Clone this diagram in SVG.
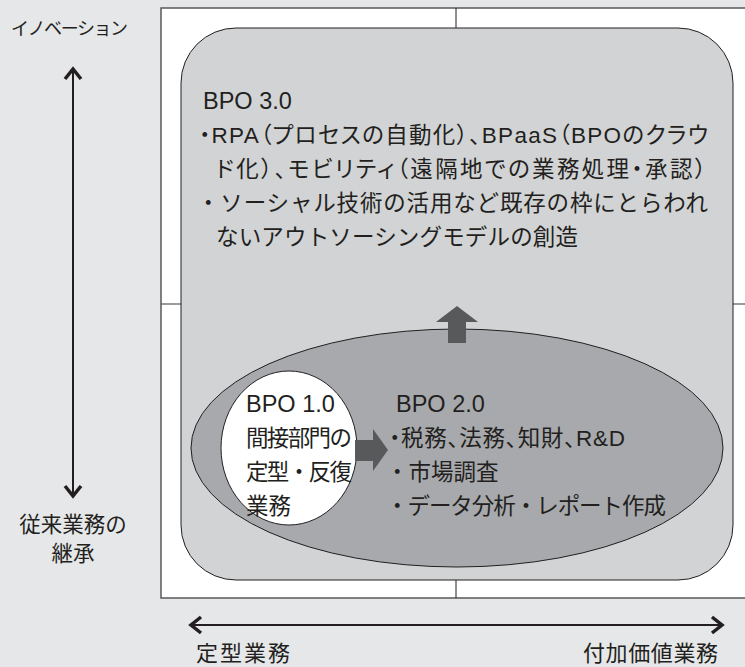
<svg xmlns="http://www.w3.org/2000/svg" width="745" height="667" viewBox="0 0 745 667">
<style>
.t{font-family:"Liberation Sans","Noto Sans CJK JP",sans-serif;fill:#231f20}
.m{font-size:22.5px}
.h{font-size:23.5px}
.a{font-size:21.5px}
.i{font-size:18px}
.b{font-size:22px}
.p{font-feature-settings:"palt"}
.ax{stroke:#231f20;fill:none}
.blk{fill:#58595b}
</style>
<rect x="0" y="0" width="745" height="667" fill="#e6e7e8"/>
<g id="frame">
<rect x="161" y="8" width="600" height="590" fill="#ffffff" stroke="#58595b" stroke-width="1.5"/>
<line x1="456" y1="8" x2="456" y2="28" stroke="#231f20" stroke-width="1"/>
<line x1="456" y1="580" x2="456" y2="598" stroke="#231f20" stroke-width="1"/>
<line x1="161" y1="304" x2="181" y2="304" stroke="#58595b" stroke-width="1.2"/>
<line x1="733" y1="304" x2="745" y2="304" stroke="#58595b" stroke-width="1.2"/>
</g>
<g id="bpo3">
<rect x="181" y="28" width="552" height="552" rx="55" ry="55" fill="#d1d3d4" stroke="#231f20" stroke-width="1"/>
<text class="t h" x="203" y="109">BPO 3.0</text>
<text class="t m p" x="199" y="143" textLength="509" lengthAdjust="spacing">・RPA（プロセスの自動化）、BPaaS（BPOのクラウ</text>
<text class="t m p" x="216" y="177" textLength="490" lengthAdjust="spacing">ド化）、モビリティ（遠隔地での業務処理・承認）</text>
<text class="t m" x="197" y="211" textLength="511" lengthAdjust="spacing">・ソーシャル技術の活用など既存の枠にとらわれ</text>
<text class="t m" x="216" y="245" textLength="362" lengthAdjust="spacing">ないアウトソーシングモデルの創造</text>
</g>
<g id="bpo2">
<ellipse cx="457" cy="448" rx="266" ry="119" fill="#a7a9ac" stroke="#231f20" stroke-width="1"/>
<text class="t h" x="396" y="412">BPO 2.0</text>
<text class="t m p" x="389" y="446" textLength="236" lengthAdjust="spacing">・税務、法務、知財、R&amp;D</text>
<text class="t m" x="386" y="480">・市場調査</text>
<text class="t m" x="386" y="514" textLength="280" lengthAdjust="spacing">・データ分析・レポート作成</text>
</g>
<g id="bpo1">
<ellipse cx="289" cy="448" rx="68" ry="77" fill="#ffffff" stroke="#231f20" stroke-width="1"/>
<text class="t h" x="246" y="412">BPO 1.0</text>
<text class="t m" x="246" y="446" textLength="106" lengthAdjust="spacing">間接部門の</text>
<text class="t m" x="246" y="480" textLength="106" lengthAdjust="spacing">定型・反復</text>
<text class="t m" x="246" y="514">業務</text>
</g>
<g id="connectors">
<polygon class="blk" points="355,440 373,440 373,429 388,450 373,471 373,461 355,461"/>
<polygon class="blk" points="448,343 466,343 466,322 478,322 457,306 436,322 448,322"/>
</g>
<g id="axes">
<line class="ax" x1="73" y1="70" x2="73" y2="495" stroke-width="2"/>
<polyline class="ax" points="65,79 73,69 81,79" stroke-width="3.5"/>
<polyline class="ax" points="65,486 73,496 81,486" stroke-width="3.5"/>
<line class="ax" x1="193" y1="625" x2="720" y2="625" stroke-width="2"/>
<polyline class="ax" points="201,617 191,625 201,633" stroke-width="3.5"/>
<polyline class="ax" points="712,617 722,625 712,633" stroke-width="3.5"/>
</g>
<g id="labels">
<text class="t i" x="11" y="35" textLength="117" lengthAdjust="spacing">イノベーション</text>
<text class="t a" x="73" y="532" text-anchor="middle">従来業務の</text>
<text class="t a" x="73" y="561" text-anchor="middle">継承</text>
<text class="t b" x="196" y="661" textLength="94" lengthAdjust="spacing">定型業務</text>
<text class="t b" x="583" y="661" textLength="135" lengthAdjust="spacing">付加価値業務</text>
</g>
</svg>
